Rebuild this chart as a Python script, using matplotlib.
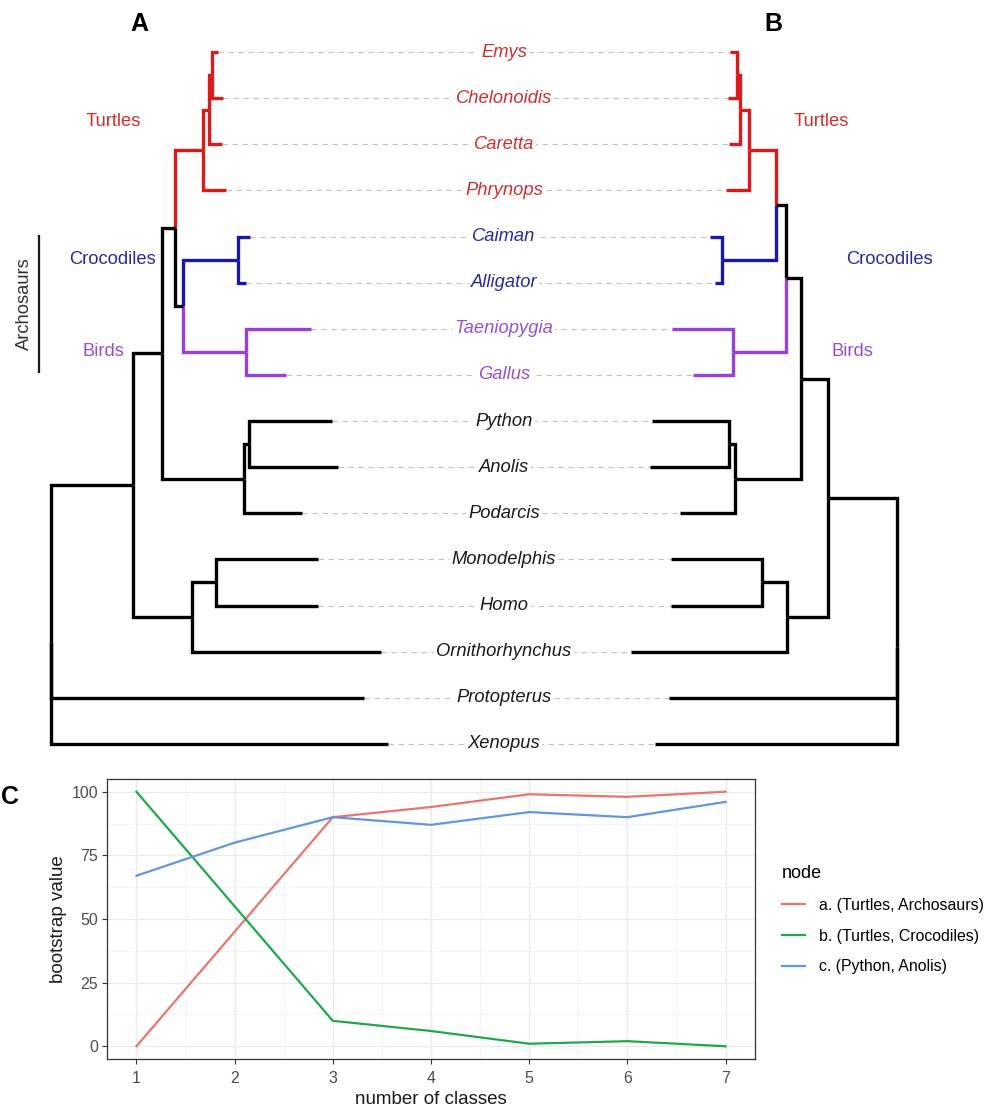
import matplotlib
matplotlib.use("Agg")
import matplotlib.pyplot as plt

plt.rcParams['font.family'] = ['Liberation Sans', 'DejaVu Sans']

# ── Tip order (top to bottom) and clades ─────────────
tip_order = ["Emys", "Chelonoidis", "Caretta", "Phrynops", "Caiman", "Alligator",
             "Taeniopygia", "Gallus", "Python", "Anolis", "Podarcis",
             "Monodelphis", "Homo", "Ornithorhynchus", "Protopterus", "Xenopus"]

clade_of = {"Emys": "Turtles", "Chelonoidis": "Turtles", "Caretta": "Turtles",
            "Phrynops": "Turtles", "Caiman": "Crocodiles", "Alligator": "Crocodiles",
            "Taeniopygia": "Birds", "Gallus": "Birds"}

line_colors = {"Turtles": "#DA1B1B", "Crocodiles": "#1818A8", "Birds": "#9A3FD8", None: "black"}
text_colors = {"Turtles": "#CC3030", "Crocodiles": "#2A2A9C", "Birds": "#9550CC", None: "#1A1A1A"}

# ── Trees: (depth, [children]) for nodes, (name, depth) for tips ──
tree_a = (0.00, [
    (0.82, [
        (1.11, [
            (1.24, [
                (1.52, [
                    (1.58, [
                        (1.61, [("Emys", 1.67), ("Chelonoidis", 1.72)]),
                        ("Caretta", 1.71)]),
                    ("Phrynops", 1.75)]),
                (1.32, [
                    (1.87, [("Caiman", 1.99), ("Alligator", 1.95)]),
                    (1.95, [("Taeniopygia", 2.60), ("Gallus", 2.35)])])]),
            (1.93, [
                (1.98, [("Python", 2.81), ("Anolis", 2.87)]),
                ("Podarcis", 2.51)])]),
        (1.41, [
            (1.65, [("Monodelphis", 2.67), ("Homo", 2.67)]),
            ("Ornithorhynchus", 3.30)])]),
    ("Protopterus", 3.13),
    ("Xenopus", 3.37)])

tree_b = (0.00, [
    (0.69, [
        (0.96, [
            (1.11, [
                (1.21, [
                    (1.48, [
                        (1.57, [
                            (1.60, [("Emys", 1.67), ("Chelonoidis", 1.69)]),
                            ("Caretta", 1.68)]),
                        ("Phrynops", 1.71)]),
                    (1.75, [("Caiman", 1.87), ("Alligator", 1.82)])]),
                (1.64, [("Taeniopygia", 2.25), ("Gallus", 2.04)])]),
            (1.62, [
                (1.68, [("Python", 2.45), ("Anolis", 2.47)]),
                ("Podarcis", 2.17)])]),
        (1.10, [
            (1.35, [("Monodelphis", 2.26), ("Homo", 2.26)]),
            ("Ornithorhynchus", 2.66)])]),
    ("Protopterus", 2.28),
    ("Xenopus", 2.42)])

b_root = 8.46     # tree B drawn mirrored from here
label_x = 4.53

# ── Panel C data ──────────────────────────────────────
n_classes = [1, 2, 3, 4, 5, 6, 7]
boot_a = [0, 45, 90, 94, 99, 98, 100]
boot_b = [100, 55, 10, 6, 1, 2, 0]
boot_c = [67, 80, 90, 87, 92, 90, 96]
series_labels = ["a. (Turtles, Archosaurs)", "b. (Turtles, Crocodiles)", "c. (Python, Anolis)"]
series_colors = ["#E8756E", "#1FA84A", "#6495E0"]


def layout(node, segs, tips):
    if isinstance(node[0], str):
        name, depth = node
        tips[name] = depth
        return tip_order.index(name), depth, {clade_of.get(name)}
    depth, kids = node
    info = [layout(k, segs, tips) for k in kids]
    y = sum(i[0] for i in info) / len(info)
    groups = set().union(*[i[2] for i in info])
    for cy, cd, cg in info:
        grp = next(iter(cg)) if len(cg) == 1 else None
        segs.append(([depth, depth, cd], [y, cy, cy], line_colors[grp]))
    return y, depth, groups


fig = plt.figure(figsize=(9.88, 11.08), dpi=100)

ax = fig.add_axes([0, 338 / 1108, 1, 770 / 1108])
ax.set_xlim(-0.51, 9.37)
ax.set_ylim(15.565, -1.1273)
ax.axis("off")

segs_a, tips_a = [], {}
layout(tree_a, segs_a, tips_a)
segs_b, tips_b = [], {}
layout(tree_b, segs_b, tips_b)

for xs, ys, col in segs_a:
    ax.plot(xs, ys, color=col, lw=2.4, solid_joinstyle="miter", solid_capstyle="butt", zorder=3)
for xs, ys, col in segs_b:
    ax.plot([b_root - v for v in xs], ys, color=col, lw=2.4,
            solid_joinstyle="miter", solid_capstyle="butt", zorder=3)

# dashed connectors + tip labels
for i, name in enumerate(tip_order):
    ax.plot([tips_a[name], b_root - tips_b[name]], [i, i], color="#C4C4C4",
            lw=0.8, ls=(0, (5, 4)), zorder=1)
    ax.text(label_x, i, name, ha="center", va="center", style="italic",
            fontsize=13.2, color=text_colors[clade_of.get(name)], zorder=2,
            bbox=dict(facecolor="white", edgecolor="none", pad=1.5))

# clade labels
ax.text(0.62, 1.5, "Turtles", ha="center", va="center", fontsize=13.2, color=text_colors["Turtles"])
ax.text(0.61, 4.5, "Crocodiles", ha="center", va="center", fontsize=13.2, color=text_colors["Crocodiles"])
ax.text(0.52, 6.5, "Birds", ha="center", va="center", fontsize=13.2, color=text_colors["Birds"])
ax.text(7.70, 1.5, "Turtles", ha="center", va="center", fontsize=13.2, color=text_colors["Turtles"])
ax.text(8.38, 4.5, "Crocodiles", ha="center", va="center", fontsize=13.2, color=text_colors["Crocodiles"])
ax.text(8.01, 6.5, "Birds", ha="center", va="center", fontsize=13.2, color=text_colors["Birds"])

# Archosaurs bar
ax.plot([-0.12, -0.12], [3.99, 6.94], color="#1A1A1A", lw=1.6)
ax.text(-0.27, 5.45, "Archosaurs", rotation=90, ha="center", va="center",
        fontsize=13.2, color="#333333")

fig.text(139 / 988, 1 - 24 / 1108, "A", ha="center", va="center", fontsize=18, fontweight="bold")
fig.text(773 / 988, 1 - 24 / 1108, "B", ha="center", va="center", fontsize=18, fontweight="bold")
fig.text(10 / 988, 1 - 797 / 1108, "C", ha="center", va="center", fontsize=18, fontweight="bold")

# ── Panel C ───────────────────────────────────────────
axc = fig.add_axes([107 / 988, 49 / 1108, 648 / 988, 280 / 1108])
for vals, lab, col in zip([boot_a, boot_b, boot_c], series_labels, series_colors):
    axc.plot(n_classes, vals, color=col, lw=1.6, label=lab)

axc.set_xlim(0.7, 7.3)
axc.set_ylim(-5, 105)
axc.set_xticks(n_classes)
axc.set_yticks([0, 25, 50, 75, 100])
axc.set_xticks([1.5, 2.5, 3.5, 4.5, 5.5, 6.5], minor=True)
axc.set_yticks([12.5, 37.5, 62.5, 87.5], minor=True)
axc.grid(which="major", color="#EBEBEB", lw=0.9)
axc.grid(which="minor", color="#F2F2F2", lw=0.5)
axc.set_axisbelow(True)
for sp in axc.spines.values():
    sp.set_color("#333333")
    sp.set_linewidth(0.9)
axc.tick_params(which="major", length=3.5, width=0.8, color="#333333",
                labelcolor="#4D4D4D", labelsize=11.5, pad=3)
axc.tick_params(axis="x", which="major", pad=5)
axc.tick_params(which="minor", length=0)
axc.set_xlabel("number of classes", fontsize=13.5, color="#1A1A1A", labelpad=4)
axc.set_ylabel("bootstrap value", fontsize=13.5, color="#1A1A1A", labelpad=3)

leg = fig.legend(*axc.get_legend_handles_labels(), title="node", loc="upper left",
                 bbox_to_anchor=(782 / 988, 1 - 865 / 1108), frameon=False,
                 fontsize=11.4, title_fontsize=13, handlelength=1.45,
                 handletextpad=0.9, labelspacing=1.0, borderpad=0,
                 borderaxespad=0, alignment="left")

fig.savefig("out.png", dpi=100)
